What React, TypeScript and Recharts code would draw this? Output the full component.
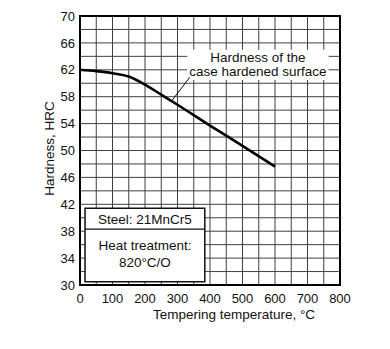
import {
  LineChart,
  Line,
  XAxis,
  YAxis,
  CartesianGrid,
  ReferenceArea,
  ReferenceLine,
  Label,
} from 'recharts';

const temperatures = [0, 50, 100, 150, 200, 250, 300, 400, 500, 600];
const hardness = [62, 61.8, 61.5, 61.0, 59.8, 58.3, 56.8, 53.7, 50.7, 47.6];

// grid lines every 50 °C / 2 HRC, labels every 100 °C / 4 HRC
const xGrid = [0, 50, 100, 150, 200, 250, 300, 350, 400, 450, 500, 550, 600, 650, 700, 750, 800];
const yGrid = [30, 32, 34, 36, 38, 40, 42, 44, 46, 48, 50, 52, 54, 56, 58, 60, 62, 64, 66, 68, 70];
const xLabels = [0, 100, 200, 300, 400, 500, 600, 700, 800];
const yLabels = [30, 34, 38, 42, 46, 50, 54, 58, 62, 66, 70];

const curveNote = ['Hardness of the', 'case hardened surface'];
const steelNote = 'Steel: 21MnCr5';
const treatmentNote = ['Heat treatment:', '820\u00b0C/O'];

const data = temperatures.map((t, i) => ({ t, hrc: hardness[i] }));

const FONT = "'Liberation Sans', Arial, Helvetica, sans-serif";
const TICK = { fontFamily: FONT, fontSize: 13, fill: '#111' };
const TXT = { fontFamily: FONT, fontSize: 13.5, fill: '#111' };

export default function App() {
  return (
    <div style={{ width: 374, height: 333 }}>
      <LineChart
        width={374}
        height={333}
        data={data}
        margin={{ top: 8, right: 42, left: 0, bottom: 0 }}
      >
        <CartesianGrid stroke="#404040" strokeWidth={1} />
        <XAxis
          dataKey="t"
          type="number"
          domain={[0, 800]}
          ticks={xGrid}
          interval={0}
          tickFormatter={(v) => (xLabels.includes(v) ? String(v) : '')}
          height={56}
          tickSize={0}
          tickMargin={9}
          axisLine={false}
          tick={TICK}
        >
          <Label
            content={({ viewBox }: any) => (
              <text
                x={viewBox.x + viewBox.width / 2 + 24}
                y={viewBox.y + 34}
                textAnchor="middle"
                style={TXT}
              >
                Tempering temperature, °C
              </text>
            )}
          />
        </XAxis>
        <YAxis
          type="number"
          domain={[30, 70]}
          ticks={yGrid}
          interval={0}
          tickFormatter={(v) => (yLabels.includes(v) ? String(v) : '')}
          width={72}
          tickSize={0}
          tickMargin={5}
          axisLine={false}
          tick={TICK}
        >
          <Label
            content={({ viewBox }: any) => {
              const cx = 41;
              const cy = viewBox.y + viewBox.height / 2 - 2;
              return (
                <text
                  x={cx}
                  y={cy}
                  textAnchor="middle"
                  dominantBaseline="central"
                  transform={`rotate(-90 ${cx} ${cy})`}
                  style={TXT}
                >
                  Hardness, HRC
                </text>
              );
            }}
          />
        </YAxis>

        {/* white patch behind the curve note */}
        <ReferenceArea
          x1={330}
          x2={765}
          y1={60.5}
          y2={65}
          fill="#fff"
          fillOpacity={1}
          stroke="none"
          label={{
            content: ({ viewBox }: any) => {
              const cx = viewBox.x + viewBox.width / 2;
              return (
                <g>
                  <text x={cx} y={viewBox.y + 12} textAnchor="middle" style={TXT}>
                    {curveNote[0]}
                  </text>
                  <text x={cx} y={viewBox.y + 26} textAnchor="middle" style={TXT}>
                    {curveNote[1]}
                  </text>
                </g>
              );
            },
          }}
        />
        <ReferenceLine
          segment={[
            { x: 338, y: 60.9 },
            { x: 284, y: 57.5 },
          ]}
          stroke="#111"
          strokeWidth={1}
        />

        {/* steel / heat treatment box */}
        <ReferenceArea
          x1={15.5}
          x2={384}
          y1={30.5}
          y2={41.4}
          fill="#fff"
          fillOpacity={1}
          stroke="#111"
          strokeWidth={1.5}
          label={{
            content: ({ viewBox }: any) => {
              const cx = viewBox.x + viewBox.width / 2;
              return (
                <g>
                  <text x={cx} y={viewBox.y + 16} textAnchor="middle" style={TXT}>
                    {steelNote}
                  </text>
                  <text x={cx} y={viewBox.y + 42} textAnchor="middle" style={TXT}>
                    {treatmentNote[0]}
                  </text>
                  <text x={cx} y={viewBox.y + 59} textAnchor="middle" style={TXT}>
                    {treatmentNote[1]}
                  </text>
                </g>
              );
            },
          }}
        />
        <ReferenceLine
          segment={[
            { x: 15.5, y: 38.3 },
            { x: 384, y: 38.3 },
          ]}
          stroke="#111"
          strokeWidth={1.2}
        />

        {/* frame */}
        <ReferenceArea
          x1={0}
          x2={800}
          y1={30}
          y2={70}
          fill="none"
          stroke="#000"
          strokeWidth={2}
        />

        <Line
          dataKey="hrc"
          type="monotone"
          stroke="#000"
          strokeWidth={2.6}
          dot={false}
          isAnimationActive={false}
        />
      </LineChart>
    </div>
  );
}
